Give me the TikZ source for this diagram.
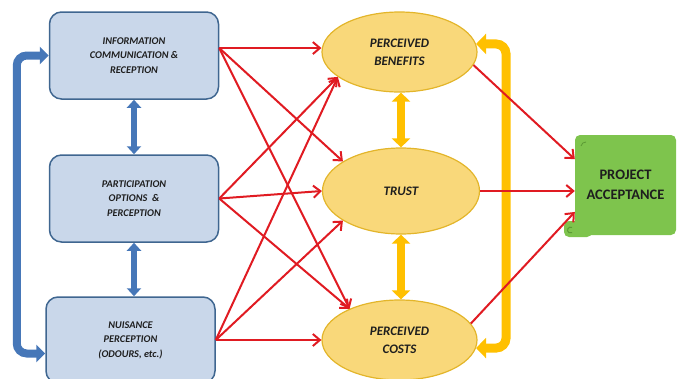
\documentclass[tikz,border=0pt]{standalone}
\usepackage{fontspec}
\setmainfont{Carlito}
\usetikzlibrary{arrows.meta,shapes.geometric,calc}

\definecolor{boxfill}{HTML}{C9D7EA}
\definecolor{boxline}{HTML}{3F6690}
\definecolor{flowblue}{HTML}{4677B8}
\definecolor{ellfill}{HTML}{F9D87A}
\definecolor{ellline}{HTML}{E3B52A}
\definecolor{flowgold}{HTML}{FFC000}
\definecolor{linkred}{HTML}{E01B22}
\definecolor{accgreen}{HTML}{7EC44D}
\definecolor{accdark}{HTML}{5C9A35}
\definecolor{inktext}{HTML}{1E1E1E}

\begin{document}
\begin{tikzpicture}[x=1pt,y=-1pt,
  factor/.style={draw=boxline, line width=1.5pt, fill=boxfill, rounded corners=12pt,
    minimum width=169pt, minimum height=87pt, align=center, text=inktext,
    font=\fontsize{10.3}{14.5}\selectfont\bfseries\itshape},
  percept/.style={ellipse, draw=ellline, line width=1.2pt, fill=ellfill, inner sep=0pt,
    minimum width=155pt, minimum height=80pt, align=center, text=inktext,
    font=\fontsize{13}{18}\selectfont\bfseries\itshape},
  outcome/.style={fill=accgreen, rounded corners=5pt, minimum width=101pt, minimum height=100pt,
    align=center, text=inktext, font=\fontsize{14.5}{20}\selectfont\bfseries},
  link/.style={draw=linkred, line width=2pt, -{Straight Barb[length=7pt,width=12pt]}},
  bluepair/.style={draw=flowblue, line width=6pt,
    {Triangle[length=8pt,width=14pt]}-{Triangle[length=8pt,width=14pt]}},
  bigblue/.style={draw=flowblue, line width=8pt, rounded corners=10pt,
    {Triangle[length=9pt,width=17pt]}-{Triangle[length=9pt,width=17pt]}},
  goldpair/.style={draw=flowgold, line width=8pt,
    {Triangle[length=9pt,width=18pt]}-{Triangle[length=9pt,width=18pt]}},
  biggold/.style={draw=flowgold, line width=9pt, rounded corners=10pt,
    {Triangle[length=10pt,width=20pt]}-{Triangle[length=10pt,width=20pt]}}
]
\useasboundingbox (0,0) rectangle (677,378);
\clip (0,0) rectangle (677,378);

% factor boxes
\node[factor] (box1) at (134,55.5) {INFORMATION\\COMMUNICATION \&\\RECEPTION};
\node[factor] (box2) at (134,198.5) {PARTICIPATION\\OPTIONS \ \&\\PERCEPTION};
\node[factor, minimum height=86pt] (box3) at (130.5,340) {NUISANCE\\PERCEPTION\\(ODOURS, etc.)};

% perception ellipses
\node[percept] (ben) at (399.5,52) {PERCEIVED\\BENEFITS};
\node[percept, minimum width=157pt, minimum height=86pt] (trust) at (401,191) {TRUST};
\node[percept] (costs) at (399.5,340) {PERCEIVED\\COSTS};

% acceptance scroll
\fill[accgreen, rounded corners=5pt] (564,221) rectangle (592,237);
\node[outcome] (acc) at (625.5,185) {PROJECT\\ACCEPTANCE};
\draw[accdark, line width=1pt] (572,227.5) arc (60:300:3pt);
\draw[accdark, line width=0.8pt] (581,146) to[bend left=40] (586,142);

% blue links between factors
\draw[bluepair] (box1.south) -- (box2.north);
\draw[bluepair] (box2.south) -- (box2.south |- box3.north);
\draw[bigblue] (box1.west) -- ++(-32,0) |- (box3.189);

% gold links between perceptions
\draw[goldpair] (trust.north) -- (trust.north |- ben.south);
\draw[goldpair] (trust.south) -- (trust.south |- costs.north);
\draw[biggold] (ben.6) -- ++(30,0) |- (costs.-6);

% red influence arrows
\draw[link] (box1.5) -- (ben.west |- box1.5);
\draw[link] (box1.5) -- (trust.153);
\draw[link] (box1.5) -- (costs.148);
\draw[link] (box2.east) -- (ben.202);
\draw[link] (box2.east) -- (trust.west);
\draw[link] (box2.east) -- (costs.148);
\draw[link] (box3.east) -- (ben.202);
\draw[link] (box3.east) -- (trust.207);
\draw[link] (box3.east) -- (costs.west);
\draw[link] (ben.-10) -- (acc.153);
\draw[link] (trust.east) -- (trust.east -| acc.west);
\draw[link] (costs.13) -- (acc.208);
\end{tikzpicture}
\end{document}
